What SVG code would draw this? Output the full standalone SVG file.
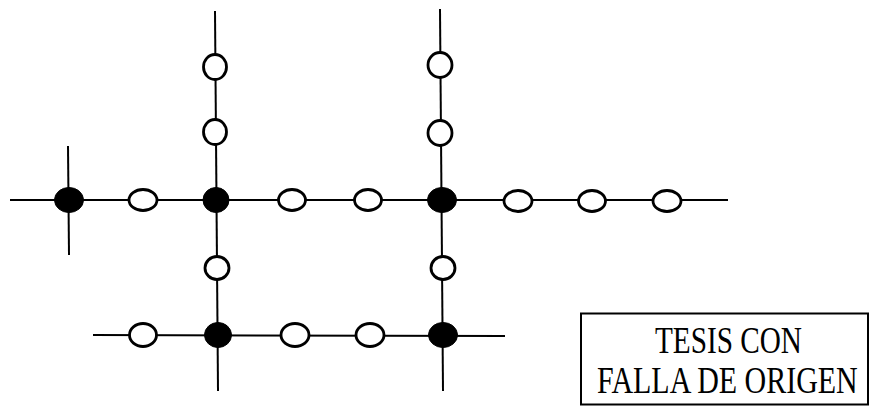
<svg xmlns="http://www.w3.org/2000/svg" width="871" height="407" viewBox="0 0 871 407">
<style>
.ln{stroke:#000;stroke-width:2;fill:none;stroke-linecap:butt}
.w{fill:#fff;stroke:#000;stroke-width:2.8}
.b{fill:#000;stroke:#000;stroke-width:1}
.t{font-family:"Liberation Serif",serif;font-size:37px;fill:#000}
</style>
<rect width="871" height="407" fill="#fff"/>
<g id="connectors">
<line class="ln" x1="10" y1="200" x2="728" y2="200"/>
<line class="ln" x1="93" y1="335" x2="505" y2="336"/>
<line class="ln" x1="68" y1="146" x2="69" y2="255"/>
<line class="ln" x1="215" y1="11" x2="218" y2="391"/>
<line class="ln" x1="440" y1="9" x2="443" y2="391"/>
</g>
<g id="n1"><ellipse class="b" cx="69" cy="200" rx="14.5" ry="12.5"/></g>
<g id="n2"><ellipse class="w" cx="143" cy="200" rx="14" ry="10.5"/></g>
<g id="n3"><ellipse class="b" cx="216" cy="200" rx="13" ry="12.5"/></g>
<g id="n4"><ellipse class="w" cx="292" cy="200" rx="13.5" ry="10.5"/></g>
<g id="n5"><ellipse class="w" cx="368" cy="200" rx="13.5" ry="10.5"/></g>
<g id="n6"><ellipse class="b" cx="442" cy="200" rx="14.5" ry="12.5"/></g>
<g id="n7"><ellipse class="w" cx="518" cy="201" rx="14" ry="10.5"/></g>
<g id="n8"><ellipse class="w" cx="592" cy="201" rx="13.5" ry="10.5"/></g>
<g id="n9"><ellipse class="w" cx="667" cy="201" rx="14" ry="10.5"/></g>
<g id="n10"><ellipse class="w" cx="215" cy="67" rx="11.5" ry="12.5"/></g>
<g id="n11"><ellipse class="w" cx="215" cy="132" rx="11.5" ry="12.5"/></g>
<g id="n12"><ellipse class="w" cx="440" cy="65" rx="12" ry="12.5"/></g>
<g id="n13"><ellipse class="w" cx="440" cy="133" rx="12" ry="12.5"/></g>
<g id="n14"><ellipse class="w" cx="217" cy="268" rx="12" ry="11.5"/></g>
<g id="n15"><ellipse class="w" cx="443" cy="268" rx="12" ry="11.5"/></g>
<g id="n16"><ellipse class="w" cx="143" cy="335" rx="13.5" ry="11.5"/></g>
<g id="n17"><ellipse class="b" cx="218" cy="335" rx="13.5" ry="12.5"/></g>
<g id="n18"><ellipse class="w" cx="295" cy="335" rx="14" ry="11.5"/></g>
<g id="n19"><ellipse class="w" cx="370" cy="335" rx="14" ry="11.5"/></g>
<g id="n20"><ellipse class="b" cx="443" cy="335" rx="14.5" ry="12.5"/></g>
<g id="label">
<rect x="581" y="313.5" width="287" height="91" fill="#fff" stroke="#000" stroke-width="2"/>
<text class="t" transform="translate(655,353) scale(0.79,1)" x="0" y="0" textLength="186" lengthAdjust="spacingAndGlyphs">TESIS CON</text>
<text class="t" transform="translate(597,393) scale(0.745,1)" x="0" y="0" textLength="350" lengthAdjust="spacingAndGlyphs">FALLA DE ORIGEN</text>
</g>
</svg>
